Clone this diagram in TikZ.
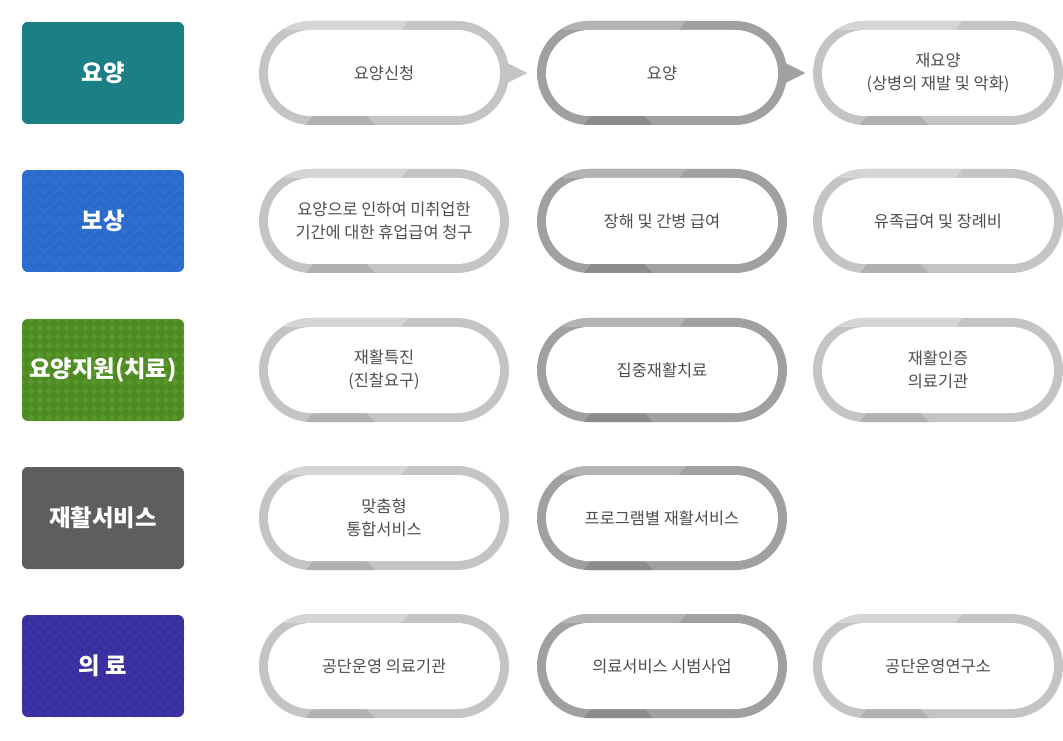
\documentclass[tikz,border=0pt]{standalone}
\usepackage{fontspec}
\setmainfont{Noto Sans CJK KR}
\usetikzlibrary{shapes.misc,calc,decorations.pathmorphing}
\definecolor{tealbg}{HTML}{177A80}
\definecolor{tealln}{HTML}{1F8489}
\definecolor{bluebg}{HTML}{2A6BCC}
\definecolor{blueln}{HTML}{3575D3}
\definecolor{greenbg}{HTML}{4E8A22}
\definecolor{greenln}{HTML}{59962B}
\definecolor{graybg}{HTML}{575757}
\definecolor{grayln}{HTML}{636363}
\definecolor{purplebg}{HTML}{3A2F9E}
\definecolor{purpleln}{HTML}{4338A8}
\definecolor{ringA}{HTML}{C4C4C4}
\definecolor{ringAl}{HTML}{D5D5D5}
\definecolor{ringAd}{HTML}{B0B0B0}
\definecolor{ringB}{HTML}{A0A0A0}
\definecolor{ringBl}{HTML}{B3B3B3}
\definecolor{ringBd}{HTML}{8C8C8C}
\definecolor{pilltext}{HTML}{4E4E4E}
% patterns, drawn in a 162x102 px box whose top left is the origin
\newcommand\stripepat[1]{\foreach \i in {-104,-100,...,164}{\draw[#1, line width=1.1pt] (\i,0) -- ++(104,104);}}
\newcommand\zigpat[1]{\foreach \j in {0,10,...,110}{\draw[#1, line width=0.7pt, decorate,
  decoration={zigzag, segment length=7.5pt, amplitude=2.6pt}] (-5,\j) -- (170,\j);}}
\newcommand\diapat[1]{\foreach \x in {0,9,...,171}{\foreach \y in {0,9,...,108}{
  \fill[#1] (\x,\y-3.6) -- (\x+3.6,\y) -- (\x,\y+3.6) -- (\x-3.6,\y) -- cycle;}}}
% category box background: cx, cy, colour, pattern
\newcommand\catbg[4]{%
  \begin{scope}[shift={(#1,#2)}]
    \begin{scope}
      \clip[rounded corners=4.5pt] (-81,-51) rectangle (81,51);
      \fill[#3] (-81,-51) rectangle (81,51);
      \begin{scope}[shift={(-81,-51)}] #4 \end{scope}
    \end{scope}
  \end{scope}}
% pill ring: cx, cy, base, light, dark
\newcommand\pillbg[5]{%
  \begin{scope}[shift={(#1,#2)}]
    \fill[#3, rounded corners=39pt] (-125,-52) rectangle (125,52);
    \begin{scope}
      \clip[rounded corners=39pt] (-125,-52) rectangle (125,52);
      \fill[#4] (-92,-53) -- (25,-53) -- (17,-43) -- (-100,-43) -- cycle;
      \fill[#5] (-71,43) -- (-18,43) -- (-8,53) -- (-79,53) -- cycle;
    \end{scope}
    \fill[white, rounded corners=32.25pt] (-116,-43) rectangle (116,43);
  \end{scope}}
\begin{document}
\begin{tikzpicture}[x=0.75pt,y=-0.75pt,
  cattext/.style={rectangle, minimum width=121.5pt, minimum height=76.5pt,
    inner sep=0pt, text=white, font=\fontsize{17.5}{21}\selectfont\bfseries},
  pilltext/.style={rounded rectangle, minimum width=187.5pt, minimum height=78pt,
    inner sep=0pt, align=center, text=pilltext, font=\fontsize{12.3}{17}\selectfont}
]
\useasboundingbox (0,0) rectangle (1063,741);

% category boxes
\catbg{103}{73}{tealbg}{\stripepat{tealln}}
\catbg{103}{221}{bluebg}{\zigpat{blueln}}
\catbg{103}{370}{greenbg}{\diapat{greenln}}
\catbg{103}{518}{graybg}{\stripepat{grayln}}
\catbg{103}{666}{purplebg}{\zigpat{purpleln}}
\node[cattext] (b1) at (103,73) {요양};
\node[cattext] (b2) at (103,221) {보상};
\node[cattext] (b3) at (103,370) {요양지원(치료)};
\node[cattext] (b4) at (103,518) {재활서비스};
\node[cattext] (b5) at (103,666) {의 료};

% pill rings
\foreach \cy in {73,221,370,518,666}{\pillbg{384}{\cy}{ringA}{ringAl}{ringAd}}
\foreach \cy in {73,221,370,518,666}{\pillbg{662}{\cy}{ringB}{ringBl}{ringBd}}
\foreach \cy in {73,221,370,666}{\pillbg{938}{\cy}{ringA}{ringAl}{ringAd}}

% row 1
\node[pilltext] (p11) at (384,73) {요양신청};
\node[pilltext] (p12) at (662,73) {요양};
\node[pilltext] (p13) at (938,73) {재요양\\(상병의 재발 및 악화)};
\fill[ringA] ($(p11.east)+(-6,-12)$) -- ($(p11.east)+(18,0)$) -- ($(p11.east)+(-6,12)$) -- cycle;
\fill[ringB] ($(p12.east)+(-6,-12)$) -- ($(p12.east)+(18,0)$) -- ($(p12.east)+(-6,12)$) -- cycle;

% row 2
\node[pilltext] (p21) at (384,221) {요양으로 인하여 미취업한\\기간에 대한 휴업급여 청구};
\node[pilltext] (p22) at (662,221) {장해 및 간병 급여};
\node[pilltext] (p23) at (938,221) {유족급여 및 장례비};

% row 3
\node[pilltext] (p31) at (384,370) {재활특진\\(진찰요구)};
\node[pilltext] (p32) at (662,370) {집중재활치료};
\node[pilltext] (p33) at (938,370) {재활인증\\의료기관};

% row 4
\node[pilltext] (p41) at (384,518) {맞춤형\\통합서비스};
\node[pilltext] (p42) at (662,518) {프로그램별 재활서비스};

% row 5
\node[pilltext] (p51) at (384,666) {공단운영 의료기관};
\node[pilltext] (p52) at (662,666) {의료서비스 시범사업};
\node[pilltext] (p53) at (938,666) {공단운영연구소};
\end{tikzpicture}
\end{document}
